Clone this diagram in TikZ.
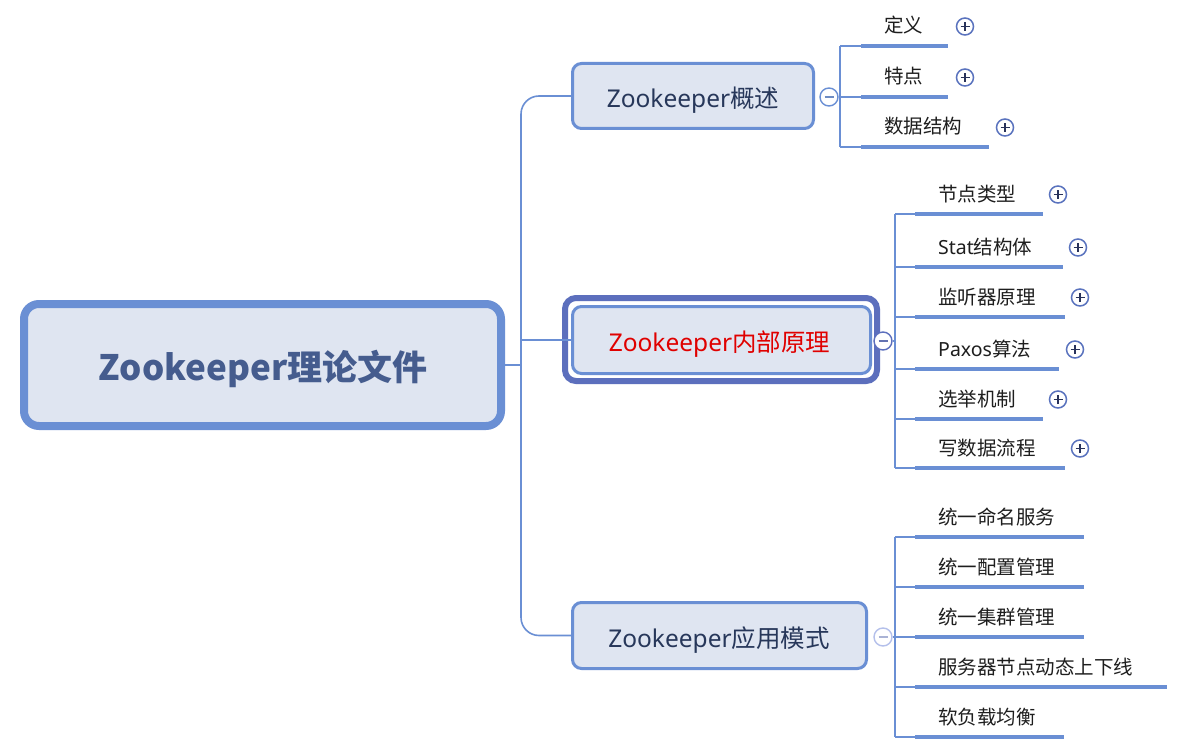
\documentclass[tikz,border=0pt]{standalone}
\usepackage{fontspec}
\setmainfont{Noto Sans CJK SC}
\newfontfamily\latf{Noto Sans}
\newcommand{\LT}[1]{{\latf #1}}
\newcommand{\LTr}[1]{{\latf\fontsize{24.5}{28}\selectfont #1}}
\definecolor{lc}{RGB}{106,143,212}
\definecolor{fillc}{RGB}{223,229,241}
\definecolor{roottxt}{RGB}{69,92,142}
\definecolor{brtxt}{RGB}{39,55,90}
\definecolor{framec}{RGB}{92,111,189}
\definecolor{redtxt}{RGB}{224,0,0}
\definecolor{leaftxt}{RGB}{30,30,30}
\definecolor{pc}{RGB}{90,115,190}
\definecolor{pm}{RGB}{40,50,90}
\definecolor{lightc}{RGB}{180,192,235}
\begin{document}
\begin{tikzpicture}[x=1pt,y=-1pt,
  conn/.style={draw=lc, line width=1.6pt},
  uline/.style={draw=lc, line width=4.5pt},
  rootbox/.style={draw=lc, line width=8pt, fill=fillc, rounded corners=15pt, minimum width=477pt, minimum height=122pt, inner sep=0},
  brbox/.style={draw=lc, line width=3pt, fill=fillc, rounded corners=9pt, inner sep=0},
  leaftext/.style={anchor=base west, inner sep=0, text=leaftxt, font=\fontsize{19.5}{24}\selectfont},
  brtext/.style={anchor=base, inner sep=0, text=brtxt, font=\fontsize{24.5}{28}\selectfont},
  plusic/.style={circle, draw=pc, line width=1.5pt, fill=white, minimum size=17pt, inner sep=0,
    path picture={\draw[pm, line width=1.8pt] ([xshift=-4.5pt]path picture bounding box.center) -- ([xshift=4.5pt]path picture bounding box.center);
                  \draw[pm, line width=1.8pt] ([yshift=-4.5pt]path picture bounding box.center) -- ([yshift=4.5pt]path picture bounding box.center);}},
  minusic/.style={circle, draw=#1, line width=1.4pt, fill=white, minimum size=18pt, inner sep=0,
    path picture={\draw[#1!80!gray, line width=1.6pt] ([xshift=-4.5pt]path picture bounding box.center) -- ([xshift=4.5pt]path picture bounding box.center);}}
]
\useasboundingbox (0,0) rectangle (1200,754);
\fill[white] (0,0) rectangle (1200,754);

% junction column
\coordinate (jx) at (521,0);

% root
\node[rootbox] (root) at (262.5,365) {};
\node[anchor=base, inner sep=0, text=roottxt, font=\bfseries\fontsize{35}{40}\selectfont] (roott) at (263,380) {Zookeeper理论文件};

% branches
\node[brbox, minimum width=241pt, minimum height=65pt] (b1) at (693,96) {};
\node[draw=framec, line width=6pt, rounded corners=11pt, minimum width=312pt, minimum height=83pt, inner sep=0] (b2o) at (721,339.5) {};
\node[brbox, minimum width=298pt, minimum height=67pt] (b2) at (721.5,340) {};
\node[brbox, minimum width=294pt, minimum height=66pt] (b3) at (719.5,635.5) {};

\node[brtext] (b1t) at (693,107.5) {\LTr{Zookeeper}概述};
\node[brtext, text=redtxt] (b2t) at (719.5,351) {\LTr{Zookeeper}内部原理};
\node[brtext] (b3t) at (719,647.5) {\LTr{Zookeeper}应用模式};

% main connectors
\draw[conn] (root.east) -- (root.east -| jx);
\draw[conn, rounded corners=18pt] (b1.west) -- (b1.west -| jx) -- (b3.west -| jx) -- (b3.west);
\draw[conn] (b2.west -| jx) -- (b2.west);

% collapse icons
\node[minusic=lc] (m1) at (829,97) {};
\node[minusic=framec] (m2) at (883,341) {};
\node[minusic=lightc] (m3) at (883,637) {};

% branch 1 leaves
\coordinate (v1t) at (840,46);
\coordinate (v1b) at (840,147);
\draw[conn] (v1t) -- (v1b);
\draw[conn] (m1.east) -- (m1.east -| v1t);
\foreach \i/\uy/\ue/\txt/\px in {1/46/948/定义/965, 2/97/948/特点/965, 3/147/989/数据结构/1005}{
  \coordinate (a\i s) at (861,\uy);
  \coordinate (a\i e) at (\ue,\uy);
  \draw[conn] (a\i s -| v1t) -- (a\i s);
  \draw[uline] (a\i s) -- (a\i e);
  \node[leaftext] (a\i t) at (884,\uy-13.5) {\txt};
  \node[plusic] (a\i p) at (\px,\uy-19.5) {};
}

% branch 2 leaves
\coordinate (v2t) at (895,214);
\coordinate (v2b) at (895,468);
\draw[conn] (v2t) -- (v2b);
\draw[conn] (m2.east) -- (m2.east -| v2t);
\foreach \i/\uy/\ue/\txt/\px in {1/214/1043/节点类型/1058, 2/267/1063/\LT{Stat}结构体/1078, 3/317/1065/监听器原理/1080, 4/369/1059/\LT{Paxos}算法/1075, 5/419/1043/选举机制/1058, 6/468/1065/写数据流程/1080}{
  \coordinate (c\i s) at (915,\uy);
  \coordinate (c\i e) at (\ue,\uy);
  \draw[conn] (c\i s -| v2t) -- (c\i s);
  \draw[uline] (c\i s) -- (c\i e);
  \node[leaftext] (c\i t) at (938,\uy-12.5) {\txt};
  \node[plusic] (c\i p) at (\px,\uy-19.5) {};
}

% branch 3 leaves
\coordinate (v3t) at (895,537);
\coordinate (v3b) at (895,737);
\draw[conn] (v3t) -- (v3b);
\draw[conn] (m3.east) -- (m3.east -| v3t);
\foreach \i/\uy/\ue/\txt in {1/537/1084/统一命名服务, 2/587/1084/统一配置管理, 3/637/1084/统一集群管理, 4/687/1167/服务器节点动态上下线, 5/737/1064/软负载均衡}{
  \coordinate (d\i s) at (915,\uy);
  \coordinate (d\i e) at (\ue,\uy);
  \draw[conn] (d\i s -| v3t) -- (d\i s);
  \draw[uline] (d\i s) -- (d\i e);
  \node[leaftext] (d\i t) at (938,\uy-12.5) {\txt};
}
\end{tikzpicture}
\end{document}
